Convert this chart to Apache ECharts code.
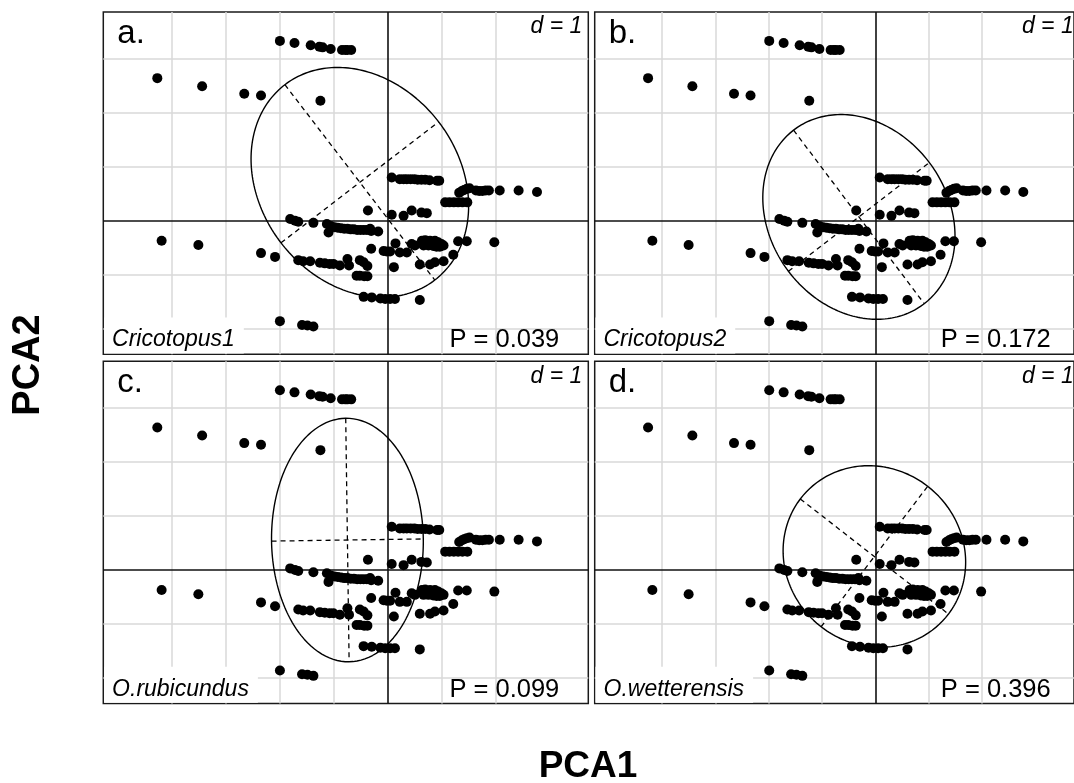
<!DOCTYPE html>
<html>
<head>
<meta charset="utf-8">
<script src="https://cdn.jsdelivr.net/npm/echarts@6/dist/echarts.min.js"></script>
<style>html,body{margin:0;padding:0;background:#fff;}#c{width:1074px;height:783px;}</style>
</head>
<body>
<div id="c"></div>
<script>
// ---- data (PCA scores, same sites in every panel) ----
const pc1 = [
 -1.99,-1.72,-1.42,-1.26,-1.20,-1.05,-0.84,-0.78,-0.74,-0.67,
 -4.26,-3.43,-2.65,-2.34,-1.24,
 0.08,0.23,0.30,0.36,0.43,0.50,0.56,0.63,0.70,0.78,0.92,0.96,
 1.33,1.38,1.42,1.47,1.52,1.64,1.70,1.76,1.82,1.88,2.08,2.43,2.77,
 1.07,1.15,1.23,1.31,1.39,1.48,
 -0.36,0.08,0.30,0.45,0.63,0.73,
 -1.80,-1.71,-1.65,-1.37,-1.12,-1.09,-1.05,-0.98,-0.92,-0.86,-0.80,-0.74,-0.68,-0.62,-0.56,-0.50,-0.44,-0.38,-0.32,-0.30,-0.17,
 -4.18,-3.50,-2.34,-2.08,
 -1.65,-1.56,-1.43,-1.25,-1.16,-1.07,-1.00,-0.88,-0.74,-0.71,-0.51,-0.44,-0.37,
 -0.57,-0.51,-0.43,-0.37,
 -0.44,-0.29,-0.13,-0.04,0.05,0.14,0.60,
 -0.30,-0.07,-0.01,0.05,0.15,0.23,0.36,0.12,0.45,0.51,0.64,0.70,0.79,0.88,0.94,1.00,0.67,0.76,0.85,0.91,0.97,1.04,1.22,1.31,1.47,1.98,0.60,0.79,0.88,1.04,
 -1.99,-1.58,-1.48,-1.37
];
const pc2 = [
 3.33,3.29,3.25,3.22,3.21,3.18,3.16,3.16,3.16,3.16,
 2.64,2.49,2.35,2.32,2.22,
 0.80,0.77,0.77,0.77,0.77,0.77,0.76,0.76,0.76,0.75,0.74,0.74,
 0.52,0.55,0.57,0.59,0.60,0.56,0.55,0.55,0.56,0.56,0.56,0.56,0.53,
 0.34,0.34,0.34,0.34,0.34,0.34,
 0.19,0.11,0.09,0.19,0.15,0.14,
 0.03,0.00,-0.02,-0.04,-0.06,-0.22,-0.10,-0.12,-0.13,-0.14,-0.15,-0.15,-0.16,-0.16,-0.17,-0.17,-0.17,-0.17,-0.15,-0.19,-0.20,
 -0.37,-0.45,-0.60,-0.67,
 -0.73,-0.75,-0.75,-0.78,-0.79,-0.80,-0.80,-0.83,-0.71,-0.83,-0.73,-0.77,-0.84,
 -1.02,-1.02,-1.03,-1.03,
 -1.41,-1.42,-1.44,-1.45,-1.45,-1.45,-1.47,
 -0.52,-0.56,-0.57,-0.57,-0.42,-0.59,-0.59,-0.86,-0.43,-0.46,-0.37,-0.36,-0.37,-0.37,-0.40,-0.43,-0.46,-0.46,-0.47,-0.48,-0.48,-0.46,-0.63,-0.38,-0.38,-0.40,-0.81,-0.81,-0.77,-0.75,
 -1.86,-1.93,-1.94,-1.96
];
const panelLetters = ['a.', 'b.', 'c.', 'd.'];
const taxa = ['Cricotopus1', 'Cricotopus2', 'O.rubicundus', 'O.wetterensis'];
const pValues = ['P = 0.039', 'P = 0.172', 'P = 0.099', 'P = 0.396'];
// ellipse (centre, semi-axes, angle of first axis in degrees)
const ellCx = [-0.51, -0.31, -0.74, -0.02];
const ellCy = [0.71, 0.07, 0.555, 0.25];
const ellA = [2.28, 2.02, 2.255, 1.75];
const ellB = [1.84, 1.66, 1.405, 1.64];
const ellAngle = [-52.5, -52.7, -89.2, -37.5];
// grid ticks (d = 1)
const gridX = [-4, -3, -2, -1, 1, 2];
const gridY = [-2, -1, 1, 2, 3];
const xRange = [-5.26, 3.72];
const yRange = [-2.474, 3.865];

// ---- layout ----
const PW = 485, PH = 342.3;
const pLeft = [103.3, 594.7, 103.3, 594.7];
const pTop = [12, 12, 361.3, 361.3];
const FONT = '"Liberation Sans", Arial, Helvetica, sans-serif';

const chart = echarts.init(document.getElementById('c'), null, {renderer: 'canvas'});
const pts = pc1.map((x, i) => [x, pc2[i]]);

const grids = [], xAxes = [], yAxes = [], series = [], graphics = [];
for (let p = 0; p < 4; p++) {
  grids.push({left: pLeft[p], top: pTop[p], width: PW, height: PH, show: true,
    borderColor: '#1a1a1a', borderWidth: 1.5, backgroundColor: '#fff', containLabel: false});
  xAxes.push({type: 'value', gridIndex: p, min: xRange[0], max: xRange[1], show: false});
  yAxes.push({type: 'value', gridIndex: p, min: yRange[0], max: yRange[1], show: false});

  const gl = [];
  gridX.forEach(v => gl.push({coords: [[v, yRange[0]], [v, yRange[1]]]}));
  gridY.forEach(v => gl.push({coords: [[xRange[0], v], [xRange[1], v]]}));
  series.push({type: 'lines', coordinateSystem: 'cartesian2d', xAxisIndex: p, yAxisIndex: p,
    data: gl, silent: true, z: 1, animation: false,
    lineStyle: {color: '#d9d9d9', width: 1.5, opacity: 1}});
  series.push({type: 'lines', coordinateSystem: 'cartesian2d', xAxisIndex: p, yAxisIndex: p,
    data: [{coords: [[0, yRange[0]], [0, yRange[1]]]}, {coords: [[xRange[0], 0], [xRange[1], 0]]}],
    silent: true, z: 3, animation: false,
    lineStyle: {color: '#111', width: 1.6, opacity: 1}});

  // ellipse
  const th = ellAngle[p] * Math.PI / 180, c = Math.cos(th), s = Math.sin(th);
  const ell = [];
  for (let k = 0; k <= 240; k++) {
    const t = 2 * Math.PI * k / 240;
    ell.push([ellCx[p] + ellA[p] * c * Math.cos(t) - ellB[p] * s * Math.sin(t),
              ellCy[p] + ellA[p] * s * Math.cos(t) + ellB[p] * c * Math.sin(t)]);
  }
  series.push({type: 'line', xAxisIndex: p, yAxisIndex: p, data: ell, showSymbol: false,
    symbol: 'none', silent: true, z: 4, animation: false, smooth: false,
    lineStyle: {color: '#000', width: 1.4}});
  series.push({type: 'lines', coordinateSystem: 'cartesian2d', xAxisIndex: p, yAxisIndex: p,
    data: [
      {coords: [[ellCx[p] - ellA[p] * c, ellCy[p] - ellA[p] * s], [ellCx[p] + ellA[p] * c, ellCy[p] + ellA[p] * s]]},
      {coords: [[ellCx[p] + ellB[p] * s, ellCy[p] - ellB[p] * c], [ellCx[p] - ellB[p] * s, ellCy[p] + ellB[p] * c]]}
    ],
    silent: true, z: 4, animation: false,
    lineStyle: {color: '#000', width: 1.3, type: [5, 4], opacity: 1}});

  series.push({type: 'scatter', xAxisIndex: p, yAxisIndex: p, data: pts, symbolSize: 10,
    itemStyle: {color: '#000', opacity: 1}, silent: true, z: 5, animation: false});

  const L = pLeft[p], T = pTop[p], R = L + PW, B = T + PH;
  graphics.push({type: 'text', z: 6, style: {text: panelLetters[p], x: L + 14, y: T + 22,
    font: '33px ' + FONT, fill: '#000', align: 'left', verticalAlign: 'middle'}});
  graphics.push({type: 'text', z: 6, style: {text: 'd = 1', x: R - 6, y: T + 15,
    font: 'italic 23px ' + FONT, fill: '#000', align: 'right', verticalAlign: 'middle'}});
  graphics.push({type: 'text', z: 2, style: {text: taxa[p], x: L + 0.8, y: B - 0.8,
    font: 'italic 23px ' + FONT, fill: '#000', align: 'left', verticalAlign: 'bottom',
    backgroundColor: '#fff', padding: [11, 9, 2, 8]}});
  graphics.push({type: 'text', z: 6, style: {text: pValues[p], x: R - 29, y: B - 14,
    font: '25.5px ' + FONT, fill: '#000', align: 'right', verticalAlign: 'middle'}});
}
graphics.push({type: 'text', z: 6, rotation: Math.PI / 2, x: 28.5, y: 365,
  style: {text: 'PCA2', x: 0, y: 0, font: 'bold 38px ' + FONT, fill: '#000', align: 'center', verticalAlign: 'middle'}});
graphics.push({type: 'text', z: 6, style: {text: 'PCA1', x: 588, y: 767,
  font: 'bold 37px ' + FONT, fill: '#000', align: 'center', verticalAlign: 'middle'}});

chart.setOption({
  backgroundColor: '#fff',
  animation: false,
  grid: grids, xAxis: xAxes, yAxis: yAxes, series: series,
  graphic: {elements: graphics}
});
</script>
</body>
</html>
